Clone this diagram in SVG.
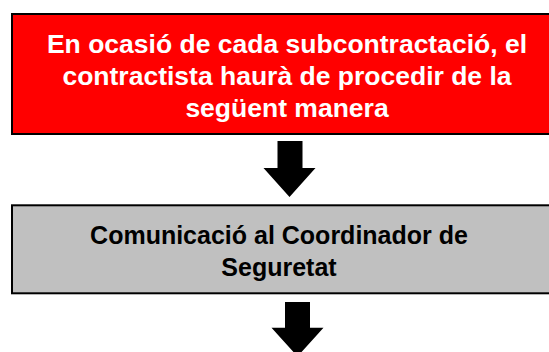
<svg xmlns="http://www.w3.org/2000/svg" width="549" height="352" viewBox="0 0 549 352">
  <style>
    .box { stroke: #000000; stroke-width: 2; }
    .t { font-family: "Liberation Sans", Arial, sans-serif; font-weight: bold; text-anchor: middle; }
    .arrow { fill: #000000; }
  </style>
  <rect width="549" height="352" fill="#ffffff"/>
  <g id="node-subcontractacio">
    <rect class="box" x="12" y="14" width="560" height="120" fill="#ff0000"/>
    <text class="t" fill="#ffffff" font-size="26.5" x="287" y="53">En ocasió de cada subcontractació, el</text>
    <text class="t" fill="#ffffff" font-size="26.5" x="287" y="85">contractista haurà de procedir de la</text>
    <text class="t" fill="#ffffff" font-size="26.5" x="287" y="117">següent manera</text>
  </g>
  <g id="node-comunicacio">
    <rect class="box" x="12" y="205.3" width="560" height="88" fill="#c0c0c0"/>
    <text class="t" fill="#000000" font-size="25" x="279" y="244">Comunicació al Coordinador de</text>
    <text class="t" fill="#000000" font-size="25" x="279" y="276">Seguretat</text>
  </g>
  <g id="connectors">
    <path class="arrow" d="M277.5,141 H302.5 V168 H315.5 L289.5,197 L263.5,168 H277.5 Z"/>
    <path class="arrow" d="M285,302 H310 V327.7 H323.5 L297.5,356.5 L271.5,327.7 H285 Z"/>
  </g>
</svg>
